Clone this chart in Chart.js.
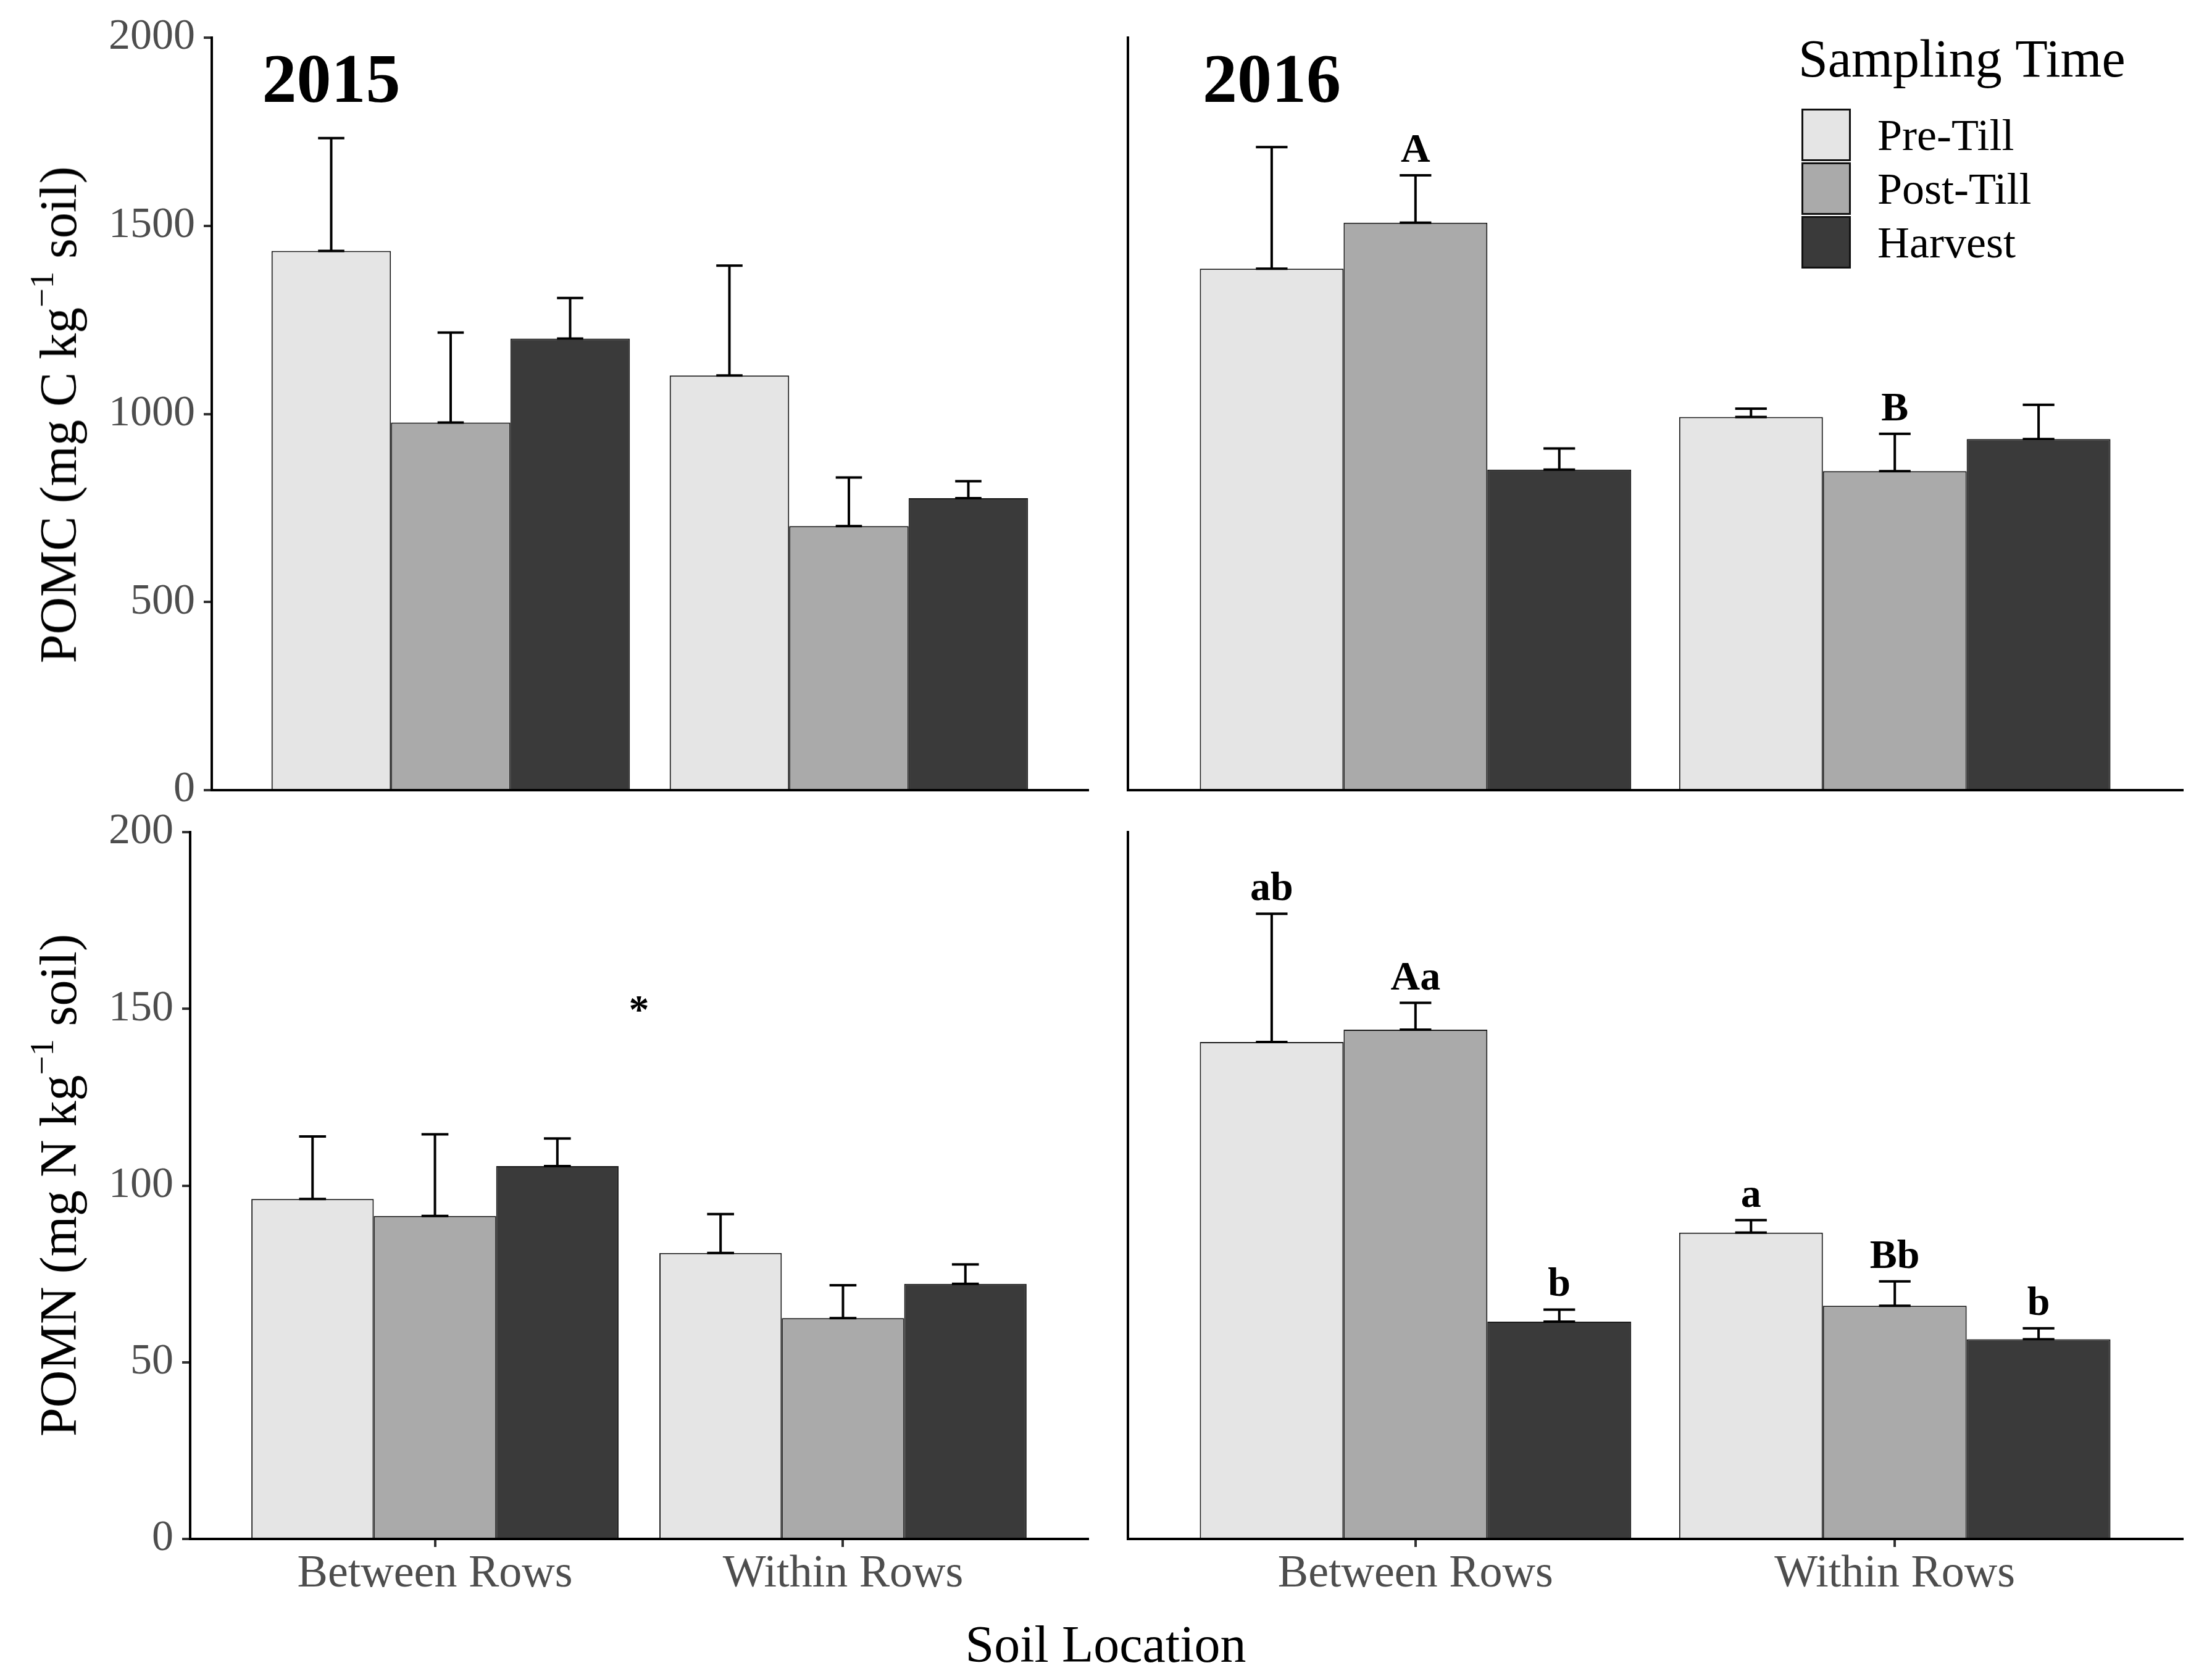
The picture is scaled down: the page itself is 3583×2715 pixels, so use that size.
<!DOCTYPE html>
<html>
<head>
<meta charset="utf-8">
<script src="https://cdn.jsdelivr.net/npm/chart.js@4.4.1/dist/chart.umd.min.js"></script>
<style>
  html, body { margin: 0; padding: 0; background: #fff; }
  body { width: 3583px; height: 2715px; position: relative; overflow: hidden; font-family: 'Liberation Serif', serif; }
  canvas { position: absolute; }
  .ytitle { position: absolute; font-size: 84px; line-height: 84px; white-space: nowrap; color: #000;
            transform: translate(-50%, -50%) rotate(-90deg); }
  .ytitle sup { font-size: 0.65em; position: relative; top: -0.15em; vertical-align: super; line-height: 0; }
  .xtitle { position: absolute; font-size: 84px; line-height: 84px; white-space: nowrap; color: #000;
            left: 1791px; top: 2622px; transform: translateX(-50%); }
</style>
</head>
<body>
<canvas id="pomc2015"></canvas>
<canvas id="pomc2016"></canvas>
<canvas id="pomn2015"></canvas>
<canvas id="pomn2016"></canvas>
<div class="ytitle" style="left:95px; top:672px;">POMC (mg C kg<sup>−1</sup> soil)</div>
<div class="ytitle" style="left:95px; top:1920px;">POMN (mg N kg<sup>−1</sup> soil)</div>
<div class="xtitle">Soil Location</div>
<script>
// categories / series
const categories = ['Between Rows', 'Within Rows'];
const seriesNames = ['Pre-Till', 'Post-Till', 'Harvest'];
const seriesColors = ['#e5e5e5', '#aaaaaa', '#3a3a3a'];

// POMC 2015 (mg C kg-1), [Between Rows, Within Rows]
const pomc2015Pre = [1433, 1102];
const pomc2015Post = [977, 702];
const pomc2015Harvest = [1200, 776];
const pomc2015PreSe = [300, 292];
const pomc2015PostSe = [239, 129];
const pomc2015HarvestSe = [108, 45];

// POMC 2016
const pomc2016Pre = [1386, 992];
const pomc2016Post = [1508, 848];
const pomc2016Harvest = [852, 933];
const pomc2016PreSe = [323, 22];
const pomc2016PostSe = [126, 99];
const pomc2016HarvestSe = [56, 91];
const pomc2016Letters = [['', ''], ['A', 'B'], ['', '']];

// POMN 2015 (mg N kg-1)
const pomn2015Pre = [96.2, 80.9];
const pomn2015Post = [91.4, 62.5];
const pomn2015Harvest = [105.5, 72.2];
const pomn2015PreSe = [17.7, 11.0];
const pomn2015PostSe = [23.1, 9.3];
const pomn2015HarvestSe = [7.8, 5.5];

// POMN 2016
const pomn2016Pre = [140.6, 86.7];
const pomn2016Post = [144.1, 66.0];
const pomn2016Harvest = [61.5, 56.5];
const pomn2016PreSe = [36.3, 3.5];
const pomn2016PostSe = [7.6, 6.9];
const pomn2016HarvestSe = [3.4, 3.1];
const pomn2016Letters = [['ab', 'a'], ['Aa', 'Bb'], ['b', 'b']];

const yTicksC = [0, 500, 1000, 1500, 2000];
const yTicksN = [0, 50, 100, 150, 200];

Chart.defaults.font.family = "'Liberation Serif', serif";

// error bars (mean to mean+se) and letters above them
const errorBars = {
  id: 'errorBars',
  afterDatasetsDraw(chart) {
    const ctx = chart.ctx;
    const y = chart.scales.y;
    ctx.save();
    ctx.strokeStyle = '#000';
    ctx.lineWidth = 4;
    chart.data.datasets.forEach((ds, i) => {
      chart.getDatasetMeta(i).data.forEach((bar, j) => {
        const v = ds.data[j].y;
        const base = y.getPixelForValue(v);
        const top = y.getPixelForValue(v + ds.se[j]);
        const half = bar.width * 0.11;
        ctx.beginPath();
        ctx.moveTo(bar.x, base); ctx.lineTo(bar.x, top);
        ctx.moveTo(bar.x - half, top); ctx.lineTo(bar.x + half, top);
        ctx.moveTo(bar.x - half, base); ctx.lineTo(bar.x + half, base);
        ctx.stroke();
        if (ds.letters && ds.letters[j]) {
          ctx.fillStyle = '#000';
          ctx.font = "bold 66px 'Liberation Serif'";
          ctx.textAlign = 'center';
          ctx.textBaseline = 'alphabetic';
          ctx.fillText(ds.letters[j], bar.x, top - 22);
        }
      });
    });
    ctx.restore();
  }
};

// panel year label and extra marks
const panelText = {
  id: 'panelText',
  afterDraw(chart, args, opts) {
    const ctx = chart.ctx;
    const {x, y} = chart.scales;
    ctx.save();
    ctx.fillStyle = '#000';
    ctx.textAlign = 'center';
    ctx.textBaseline = 'alphabetic';
    (opts.items || []).forEach(it => {
      ctx.font = it.font;
      ctx.fillText(it.text, x.getPixelForValue(it.x), y.getPixelForValue(it.y));
    });
    ctx.restore();
  }
};

// legend box inside the 2016 POMC panel
const sideLegend = {
  id: 'sideLegend',
  afterDraw(chart, args, opts) {
    if (!opts.show) return;
    const ctx = chart.ctx;
    ctx.save();
    ctx.fillStyle = '#000';
    ctx.textAlign = 'left';
    ctx.textBaseline = 'alphabetic';
    ctx.font = "86px 'Liberation Serif'";
    ctx.fillText('Sampling Time', opts.left - 4, opts.titleBase);
    chart.data.datasets.forEach((ds, i) => {
      const top = opts.keyTop + i * opts.keyH;
      ctx.fillStyle = ds.backgroundColor;
      ctx.fillRect(opts.left + 1, top + 1, opts.keyW - 2, opts.keyH - 2);
      ctx.strokeStyle = '#111';
      ctx.lineWidth = 3;
      ctx.strokeRect(opts.left + 2.5, top + 2.5, opts.keyW - 5, opts.keyH - 5);
      ctx.fillStyle = '#000';
      ctx.font = "72px 'Liberation Serif'";
      ctx.fillText(ds.label, opts.left + opts.keyW + 42, top + opts.keyH / 2 + 24);
    });
    ctx.restore();
  }
};

function makePanel(id, box, area, p) {
  const cv = document.getElementById(id);
  cv.width = box.w; cv.height = box.h;
  cv.style.left = box.x + 'px'; cv.style.top = box.y + 'px';
  cv.style.width = box.w + 'px'; cv.style.height = box.h + 'px';
  return new Chart(cv, {
    type: 'bar',
    data: {
      datasets: p.means.map((m, i) => ({
        label: seriesNames[i],
        data: m.map((v, j) => ({x: j + 1, y: v})),
        se: p.se[i],
        letters: p.letters ? p.letters[i] : null,
        backgroundColor: seriesColors[i],
        borderColor: '#1a1a1a',
        borderWidth: 2,
        borderSkipped: 'bottom',
        categoryPercentage: 0.9,
        barPercentage: 1
      }))
    },
    options: {
      responsive: false,
      animation: false,
      devicePixelRatio: 1,
      layout: {padding: {left: 0, bottom: 0, top: area.top - box.y, right: box.x + box.w - area.right}},
      plugins: {
        legend: {display: false},
        tooltip: {enabled: false},
        panelText: {items: p.items || []},
        sideLegend: p.legend || {show: false}
      },
      scales: {
        x: {
          type: 'linear', min: 0.4, max: 2.6, offset: false, bounds: 'data',
          afterBuildTicks: s => { s.ticks = categories.map((c, i) => ({value: i + 1})); },
          afterFit: s => { s.height = box.y + box.h - area.bottom; },
          ticks: {display: p.showX, autoSkip: false, maxRotation: 0, padding: 0,
                  color: '#4d4d4d', font: {size: 74}, callback: v => categories[v - 1]},
          grid: {display: true, drawOnChartArea: false, drawTicks: p.showX, tickLength: 13,
                 lineWidth: 4, color: '#333', offset: false},
          border: {display: true, color: '#000', width: 4}
        },
        y: {
          min: 0, max: p.yTicks[p.yTicks.length - 1],
          afterBuildTicks: s => { s.ticks = p.yTicks.map(v => ({value: v})); },
          afterFit: s => { s.width = area.left - box.x; },
          ticks: {display: p.showY, padding: 14, color: '#4d4d4d', font: {size: 70}, callback: v => String(v)},
          grid: {display: true, drawOnChartArea: false, drawTicks: p.showY, tickLength: 13,
                 lineWidth: 4, color: '#333'},
          border: {display: true, color: '#000', width: 4}
        }
      }
    },
    plugins: [errorBars, panelText, sideLegend]
  });
}

makePanel('pomc2015', {x: 0, y: 0, w: 1790, h: 1350}, {left: 343, top: 61, right: 1762, bottom: 1280}, {
  means: [pomc2015Pre, pomc2015Post, pomc2015Harvest],
  se: [pomc2015PreSe, pomc2015PostSe, pomc2015HarvestSe],
  yTicks: yTicksC, showX: false, showY: true,
  items: [{text: '2015', x: 0.7, y: 1830, font: "bold 112px 'Liberation Serif'"}]
});

makePanel('pomc2016', {x: 1790, y: 0, w: 1793, h: 1350}, {left: 1827, top: 61, right: 3535, bottom: 1280}, {
  means: [pomc2016Pre, pomc2016Post, pomc2016Harvest],
  se: [pomc2016PreSe, pomc2016PostSe, pomc2016HarvestSe],
  letters: pomc2016Letters,
  yTicks: yTicksC, showX: false, showY: false,
  items: [{text: '2016', x: 0.7, y: 1830, font: "bold 112px 'Liberation Serif'"}],
  legend: {show: true, left: 1127, titleBase: 124, keyTop: 175, keyW: 82, keyH: 87}
});

makePanel('pomn2015', {x: 0, y: 1290, w: 1790, h: 1330}, {left: 308, top: 1348, right: 1762, bottom: 2493}, {
  means: [pomn2015Pre, pomn2015Post, pomn2015Harvest],
  se: [pomn2015PreSe, pomn2015PostSe, pomn2015HarvestSe],
  yTicks: yTicksN, showX: true, showY: true,
  items: [{text: '*', x: 1.5, y: 146, font: "bold 66px 'Liberation Serif'"}]
});

makePanel('pomn2016', {x: 1790, y: 1290, w: 1793, h: 1330}, {left: 1827, top: 1348, right: 3535, bottom: 2493}, {
  means: [pomn2016Pre, pomn2016Post, pomn2016Harvest],
  se: [pomn2016PreSe, pomn2016PostSe, pomn2016HarvestSe],
  letters: pomn2016Letters,
  yTicks: yTicksN, showX: true, showY: false
});
</script>
</body>
</html>
